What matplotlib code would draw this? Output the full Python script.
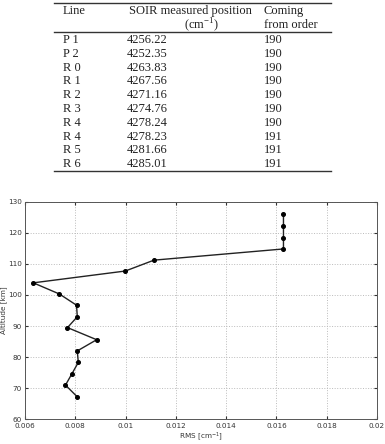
import matplotlib.pyplot as plt
from matplotlib.lines import Line2D

# table data
lines = ['P 1', 'P 2', 'R 0', 'R 1', 'R 2', 'R 3', 'R 4', 'R 4', 'R 5', 'R 6']
positions = ['4256.22', '4252.35', '4263.83', '4267.56', '4271.16',
             '4274.76', '4278.24', '4278.23', '4281.66', '4285.01']
orders = ['190', '190', '190', '190', '190', '190', '190', '191', '191', '191']

# profile data
rms = [0.00807, 0.00761, 0.00787, 0.00812, 0.00808, 0.00885, 0.00769, 0.00808,
       0.00805, 0.00737, 0.00633, 0.00999, 0.01113, 0.01628, 0.01628, 0.01628, 0.01628]
altitude = [67.3, 71.0, 74.7, 78.3, 82.0, 85.6, 89.5, 93.0,
            96.7, 100.3, 103.9, 107.7, 111.2, 114.8, 118.4, 122.2, 125.9]

W, H = 385, 444
fig = plt.figure(figsize=(W / 100, H / 100), dpi=100)

def fx(px):
    return px / W

def fy(py):
    return 1 - py / H

serif = dict(family='Liberation Serif', fontsize=9, color='#222222')

# --- table ---
for y in (3.5, 32.5, 171.5):
    fig.add_artist(Line2D([fx(54), fx(331)], [fy(y), fy(y)], color='#333333', lw=1.0))

fig.text(fx(63), fy(11), 'Line', va='center', ha='left', **serif)
fig.text(fx(129), fy(11), 'SOIR measured position', va='center', ha='left', **serif)
fig.text(fx(201), fy(25), r'(cm$^{\mathregular{-1}}$)', va='center', ha='center', **serif)
fig.text(fx(264), fy(11), 'Coming', va='center', ha='left', **serif)
fig.text(fx(264), fy(25), 'from order', va='center', ha='left', **serif)

for i, (ln, pos, od) in enumerate(zip(lines, positions, orders)):
    y = 40 + i * 13.8
    fig.text(fx(63), fy(y), ln, va='center', ha='left', **serif)
    fig.text(fx(127), fy(y), pos, va='center', ha='left', **serif)
    fig.text(fx(264), fy(y), od, va='center', ha='left', **serif)

# --- profile plot ---
ax = fig.add_axes([fx(25), fy(419.3), fx(377) - fx(25), fy(201.7) - fy(419.3)])
ax.plot(rms, altitude, color='#222222', lw=1.0, marker='o', markersize=2.6,
        markerfacecolor='black', markeredgecolor='black')
ax.set_xlim(0.006, 0.02)
ax.set_ylim(60, 130)
ax.set_xticks([0.006, 0.008, 0.01, 0.012, 0.014, 0.016, 0.018, 0.02])
ax.set_xticklabels(['0.006', '0.008', '0.01', '0.012', '0.014', '0.016', '0.018', '0.02'])
ax.set_yticks(range(60, 131, 10))
ax.grid(True, linestyle=':', color='#bbbbbb', lw=0.7)
ax.tick_params(direction='in', labelsize=5.2, length=2, colors='#333333',
               top=True, right=True, pad=2.5)
for s in ax.spines.values():
    s.set_color('#555555')
    s.set_linewidth(0.7)
ax.set_xlabel(r'RMS [cm$^{\mathregular{-1}}$]', fontsize=5.2, labelpad=1, color='#333333')
ax.set_ylabel('Altitude [km]', fontsize=5.2, labelpad=0.5, color='#333333')

fig.savefig('out.png', dpi=100)
